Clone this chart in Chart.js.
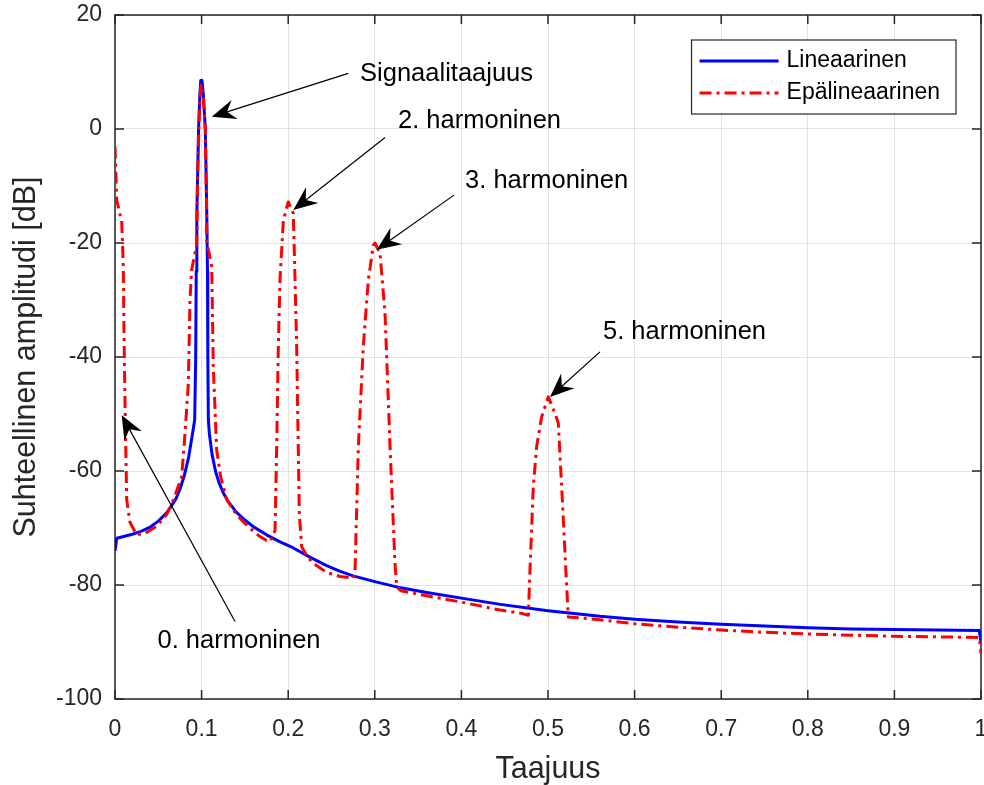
<!DOCTYPE html>
<html>
<head>
<meta charset="utf-8">
<script src="https://cdn.jsdelivr.net/npm/chart.js@4.4.1/dist/chart.umd.min.js"></script>
<style>
html,body{margin:0;padding:0;background:#fff;}
#wrap{width:984px;height:785px;position:relative;}
</style>
</head>
<body>
<div id="wrap"><canvas id="c" width="984" height="785"></canvas></div>
<script>
// ---- Data ----
const seriesLabels = ['Lineaarinen', 'Epälineaarinen'];

const linFreq = [0, 0.002, 0.01, 0.02, 0.03, 0.04, 0.05, 0.06, 0.07, 0.075, 0.08, 0.085, 0.09, 0.092, 0.0932, 0.0938, 0.0945, 0.0965, 0.098, 0.099, 0.1005, 0.102, 0.1043, 0.106, 0.1068, 0.1072, 0.1078, 0.109, 0.112, 0.116, 0.12, 0.125, 0.13, 0.14, 0.15, 0.16, 0.175, 0.19, 0.206, 0.225, 0.2444, 0.26, 0.275, 0.3, 0.33, 0.36, 0.4, 0.445, 0.5, 0.56, 0.6, 0.65, 0.7, 0.75, 0.8, 0.85, 0.9, 0.95, 0.998, 1];
const linAmp  = [-74, -71.8, -71.5, -71.1, -70.6, -69.9, -68.8, -67.3, -65, -63.2, -60.8, -57.6, -53, -51, -40, -25, -15, 0, 6, 8.5, 8.5, 6, 0, -15, -25, -40, -51, -53.5, -57, -60, -62, -63.8, -65.2, -67.2, -68.6, -69.8, -71.2, -72.4, -73.5, -75.1, -76.6, -77.6, -78.4, -79.4, -80.5, -81.3, -82.3, -83.4, -84.5, -85.5, -86, -86.5, -86.9, -87.2, -87.5, -87.7, -87.8, -87.9, -88, -90];

const nlFreq = [0, 0.002, 0.006, 0.0077, 0.0096, 0.0104, 0.0115, 0.0135, 0.0173, 0.025, 0.035, 0.045, 0.055, 0.0597, 0.065, 0.07, 0.077, 0.0808, 0.0847, 0.0866, 0.0885, 0.092, 0.0943, 0.0955, 0.0968, 0.098, 0.0993, 0.1005, 0.102, 0.1043, 0.1055, 0.1059, 0.109, 0.1117, 0.1135, 0.1174, 0.122, 0.129, 0.14, 0.15, 0.16, 0.1674, 0.175, 0.179, 0.1848, 0.1867, 0.1886, 0.1905, 0.1944, 0.2001, 0.2059, 0.2079, 0.2098, 0.2128, 0.2156, 0.222, 0.229, 0.2444, 0.26, 0.2752, 0.2771, 0.281, 0.2867, 0.2925, 0.2983, 0.3002, 0.306, 0.3118, 0.3176, 0.3233, 0.3253, 0.33, 0.36, 0.4, 0.4446, 0.47, 0.4773, 0.4792, 0.483, 0.4869, 0.4927, 0.5003, 0.5081, 0.5119, 0.5158, 0.5216, 0.5234, 0.56, 0.6, 0.65, 0.7, 0.75, 0.8, 0.85, 0.9, 0.95, 0.998, 1];
const nlAmp  = [-3.1, -12.5, -15.1, -16, -24, -36, -47.5, -65, -69, -71.2, -70.9, -70, -68.6, -67.6, -66, -64, -61, -53.5, -44.6, -30, -24.7, -22, -20.5, -8, 0, 5.5, 7.7, 7.7, 5.5, 0, -12, -20, -22, -24.2, -41.7, -56.3, -61, -65, -67.6, -69.2, -70.6, -71.5, -72.2, -72.4, -70.4, -55.7, -38.2, -26.5, -16, -12.8, -14.8, -26.5, -38.2, -67.4, -73.3, -75, -76.2, -77.8, -78.5, -78.8, -77.9, -55.7, -38.2, -26.5, -20.4, -20, -21.8, -32.3, -55.7, -76.2, -80.3, -81, -81.9, -83, -84.4, -85, -85.3, -77.4, -62.8, -55.7, -50.5, -47, -49.9, -51.6, -62.8, -80.3, -85.6, -86.1, -86.8, -87.4, -87.9, -88.3, -88.6, -88.8, -89, -89.1, -89.2, -92];

const xTicks = [0, 0.1, 0.2, 0.3, 0.4, 0.5, 0.6, 0.7, 0.8, 0.9, 1];
const yTicks = [-100, -80, -60, -40, -20, 0, 20];

const xTitle = 'Taajuus';
const yTitle = 'Suhteellinen amplitudi [dB]';

// annotations (text arrows), in data units
const annText  = ['Signaalitaajuus', '2. harmoninen', '3. harmoninen', '5. harmoninen', '0. harmoninen'];
const annTailX = [0.2694, 0.3118, 0.3915, 0.560, 0.1386];
const annTailY = [9.75, -1.5, -11.6, -39.1, -86.4];
const annHeadX = [0.1117, 0.2059, 0.3022, 0.5023, 0.0077];
const annHeadY = [2.16, -14.2, -21.2, -47.0, -50.2];
const annTextX = [0.283, 0.3268, 0.4042, 0.5635, 0.1432];
const annTextY = [9.65, 1.4, -9.1, -35.6, -89.8];
const annAlign = ['left', 'left', 'left', 'left', 'center'];

// ---- Chart ----
const FONT = '"Liberation Sans", Arial, Helvetica, sans-serif';
const AXIS_COLOR = '#262626';
const BLUE = '#0000ff';
const RED = '#ff0000';
const RED_DASH = [12, 5, 3, 5];

function toPts(xs, ys) { return xs.map((x, i) => ({x: x, y: ys[i]})); }

const matlabPlugin = {
  id: 'matlabPlugin',
  beforeDatasetsDraw(chart) {
    const {ctx, chartArea: a, scales} = chart;
    ctx.save();
    ctx.strokeStyle = AXIS_COLOR;
    ctx.lineWidth = 1.5;
    ctx.strokeRect(a.left, a.top, a.right - a.left, a.bottom - a.top);
    const tl = 9;
    ctx.beginPath();
    xTicks.forEach(v => {
      const px = scales.x.getPixelForValue(v);
      ctx.moveTo(px, a.bottom); ctx.lineTo(px, a.bottom - tl);
      ctx.moveTo(px, a.top); ctx.lineTo(px, a.top + tl);
    });
    yTicks.forEach(v => {
      const py = scales.y.getPixelForValue(v);
      ctx.moveTo(a.left, py); ctx.lineTo(a.left + tl, py);
      ctx.moveTo(a.right, py); ctx.lineTo(a.right - tl, py);
    });
    ctx.stroke();
    ctx.restore();
  },
  afterDatasetsDraw(chart) {
    const {ctx, chartArea: a, scales} = chart;
    const sx = scales.x, sy = scales.y;
    ctx.save();
    // annotations
    ctx.font = '25.5px ' + FONT;
    ctx.fillStyle = '#000';
    ctx.strokeStyle = '#000';
    ctx.lineWidth = 1.2;
    annText.forEach((t, i) => {
      const tx = sx.getPixelForValue(annTailX[i]), ty = sy.getPixelForValue(annTailY[i]);
      const hx = sx.getPixelForValue(annHeadX[i]), hy = sy.getPixelForValue(annHeadY[i]);
      const dx = hx - tx, dy = hy - ty, len = Math.hypot(dx, dy);
      const ux = dx / len, uy = dy / len, nx = -uy, ny = ux;
      const L = 24, W = 10, N = 16;
      const bx = hx - ux * L, by = hy - uy * L;
      const kx = hx - ux * N, ky = hy - uy * N;
      ctx.beginPath();
      ctx.moveTo(tx, ty); ctx.lineTo(kx, ky);
      ctx.stroke();
      ctx.beginPath();
      ctx.moveTo(hx, hy);
      ctx.lineTo(bx + nx * W, by + ny * W);
      ctx.lineTo(kx, ky);
      ctx.lineTo(bx - nx * W, by - ny * W);
      ctx.closePath();
      ctx.fill();
      ctx.textAlign = annAlign[i];
      ctx.textBaseline = 'middle';
      ctx.fillText(t, sx.getPixelForValue(annTextX[i]), sy.getPixelForValue(annTextY[i]));
    });
    // legend
    ctx.font = '23px ' + FONT;
    const tw = Math.max(...seriesLabels.map(s => ctx.measureText(s).width));
    const lineLen = 79, padL = 8, gap = 8, padR = 16;
    const boxW = padL + lineLen + gap + tw + padR;
    const boxR = a.right - 25, boxT = a.top + 25, boxH = 74;
    const boxL = boxR - boxW;
    ctx.fillStyle = '#fff';
    ctx.fillRect(boxL, boxT, boxW, boxH);
    ctx.strokeStyle = AXIS_COLOR;
    ctx.lineWidth = 1.2;
    ctx.strokeRect(boxL, boxT, boxW, boxH);
    const rows = [boxT + 21, boxT + 53];
    const styles = [{c: BLUE, d: []}, {c: RED, d: RED_DASH}];
    seriesLabels.forEach((s, i) => {
      ctx.beginPath();
      ctx.strokeStyle = styles[i].c;
      ctx.lineWidth = 3;
      ctx.setLineDash(styles[i].d);
      ctx.moveTo(boxL + padL, rows[i]);
      ctx.lineTo(boxL + padL + lineLen, rows[i]);
      ctx.stroke();
      ctx.setLineDash([]);
      ctx.fillStyle = '#000';
      ctx.textAlign = 'left';
      ctx.textBaseline = 'middle';
      ctx.fillText(s, boxL + padL + lineLen + gap, rows[i]);
    });
    ctx.restore();
  }
};

new Chart(document.getElementById('c'), {
  type: 'line',
  data: {
    datasets: [
      {label: seriesLabels[0], data: toPts(linFreq, linAmp), borderColor: BLUE, borderWidth: 3, pointRadius: 0, fill: false, tension: 0, order: 2, borderJoinStyle: 'round'},
      {label: seriesLabels[1], data: toPts(nlFreq, nlAmp), borderColor: RED, borderWidth: 3, borderDash: RED_DASH, pointRadius: 0, fill: false, tension: 0, order: 1, borderJoinStyle: 'round'}
    ]
  },
  options: {
    responsive: false,
    animation: false,
    devicePixelRatio: 1,
    layout: {padding: {left: 0, right: 3, top: 15, bottom: 0}},
    plugins: {legend: {display: false}, tooltip: {enabled: false}},
    scales: {
      x: {
        type: 'linear', min: 0, max: 1,
        afterBuildTicks: s => { s.ticks = xTicks.map(v => ({value: v})); },
        afterFit: s => { s.height = 86; s.paddingLeft = 0; s.paddingRight = 0; },
        grid: {color: '#e2e2e2', lineWidth: 1, drawTicks: false},
        border: {display: false},
        ticks: {font: {size: 23, family: FONT}, color: AXIS_COLOR, padding: 17, autoSkip: false, maxRotation: 0,
                callback: v => String(v)},
        title: {display: true, text: xTitle, font: {size: 30.5, family: FONT}, color: AXIS_COLOR, padding: {top: 0, bottom: -3}}
      },
      y: {
        type: 'linear', min: -100, max: 20,
        afterBuildTicks: s => { s.ticks = yTicks.map(v => ({value: v})); },
        afterFit: s => { s.width = 115; s.paddingTop = 0; s.paddingBottom = 0; },
        grid: {color: '#e2e2e2', lineWidth: 1, drawTicks: false},
        border: {display: false},
        ticks: {font: {size: 23, family: FONT}, color: AXIS_COLOR, padding: 13, callback: v => String(v)},
        title: {display: true, text: yTitle, font: {size: 30.5, family: FONT}, color: AXIS_COLOR, padding: {top: 8, bottom: 0}}
      }
    }
  },
  plugins: [matlabPlugin]
});
</script>
</body>
</html>
